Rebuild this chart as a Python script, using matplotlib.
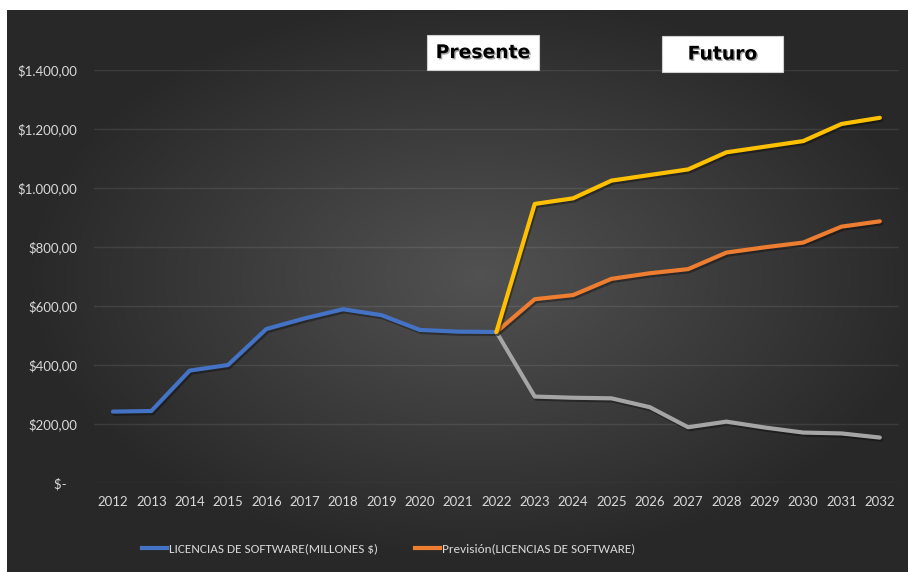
import numpy as np
import matplotlib.pyplot as plt
import matplotlib.patheffects as pe
from matplotlib import font_manager
from matplotlib.patches import Rectangle
from matplotlib.lines import Line2D
from matplotlib.ticker import FuncFormatter

# historic sales (millions $)
years_hist = [2012, 2013, 2014, 2015, 2016, 2017, 2018, 2019, 2020, 2021, 2022]
licencias = [242, 244, 381, 400, 522, 558, 589, 569, 519, 513, 512]

# forecast with upper / lower confidence bound
years_fc = [2022, 2023, 2024, 2025, 2026, 2027, 2028, 2029, 2030, 2031, 2032]
prevision = [512, 623, 637, 692, 711, 725, 781, 799, 815, 869, 887]
limite_sup = [512, 946, 965, 1025, 1044, 1063, 1121, 1140, 1159, 1217, 1238]
limite_inf = [512, 293, 289, 287, 257, 189, 208, 188, 171, 168, 154]

yticks = [0, 200, 400, 600, 800, 1000, 1200, 1400]

# narrow font for the legend if there is one, else a smaller Lato
installed = {f.name for f in font_manager.fontManager.ttflist}
narrow = None
for cand in ['Carlito', 'Liberation Sans Narrow', 'Roboto Condensed', 'Open Sans Condensed', 'Arial Narrow']:
    if cand in installed:
        narrow = cand
        break
leg_prop = {'family': [narrow, 'DejaVu Sans'], 'size': 9.5} if narrow else {'family': ['Lato', 'DejaVu Sans'], 'size': 8}


def money(v, pos):
    if v == 0:
        return '$-   '
    s = f'{v:,.2f}'.replace(',', 'X').replace('.', ',').replace('X', '.')
    return '$' + s


W, H = 908, 572
fig = plt.figure(figsize=(W / 100, H / 100), dpi=100)
fig.patch.set_facecolor('white')
plt.rcParams['font.family'] = ['Lato', 'DejaVu Sans']

# dark radial background
bg = fig.add_axes([7 / W, 0, (W - 7) / W, (H - 10) / H])
bg.set_axis_off()
gx, gy = np.meshgrid(np.linspace(-1, 1, 400), np.linspace(-1, 1, 250))
r = np.sqrt((gx - 0.05) ** 2 + (gy + 0.05) ** 2)
shade = np.clip(0.32 - 0.16 * r, 0.16, 0.32)
bg.imshow(np.dstack([shade] * 3), aspect='auto', extent=[0, 1, 0, 1])
bg.set_xlim(0, 1)
bg.set_ylim(0, 1)

ax = fig.add_axes([93.8 / W, (H - 483) / H, (899 - 93.8) / W, 413 / H])
ax.set_facecolor('none')
ax.set_xlim(2011.5, 2032.5)
ax.set_ylim(0, 1400)

ax.set_yticks(yticks)
ax.yaxis.set_major_formatter(FuncFormatter(money))
ax.set_xticks(list(range(2012, 2033)))
ax.tick_params(axis='y', length=0, pad=12, labelsize=9.5, colors='#d9d9d9')
ax.tick_params(axis='x', length=0, pad=9, labelsize=9.5, colors='#d9d9d9')
ax.grid(axis='y', color='white', alpha=0.09, lw=1)
ax.set_axisbelow(True)
for s in ax.spines.values():
    s.set_visible(False)

shadow = [pe.SimpleLineShadow(offset=(1, -1.5), alpha=0.35, shadow_color='black'), pe.Normal()]
line_kw = dict(lw=3, solid_capstyle='round', solid_joinstyle='round', path_effects=shadow)
ax.plot(years_hist, licencias, color='#4472C4', **line_kw)
ax.plot(years_fc, limite_inf, color='#A5A5A5', **line_kw)
ax.plot(years_fc, prevision, color='#ED7D31', **line_kw)
ax.plot(years_fc, limite_sup, color='#FFC000', **line_kw)

# legend: two entries, each anchored at its own left edge
for color, label, x_left in [('#4472C4', 'LICENCIAS DE SOFTWARE(MILLONES $)', 142),
                             ('#ED7D31', 'Previsión(LICENCIAS DE SOFTWARE)', 415)]:
    leg = fig.legend([Line2D([], [], color=color, lw=3)], [label], loc='center left',
                     bbox_to_anchor=(x_left / W, (H - 549) / H), frameon=False,
                     prop=leg_prop, labelcolor='#d9d9d9', handlelength=1.9,
                     handletextpad=0.15, borderpad=0, borderaxespad=0)

# "Presente" / "Futuro" labels
for label, x0, y0, w, h in [('Presente', 427, 35, 112, 35), ('Futuro', 662, 36, 121, 36)]:
    fig.patches.append(Rectangle((x0 / W, (H - y0 - h) / H), w / W, h / H,
                                 transform=fig.transFigure, facecolor='white',
                                 edgecolor='#d0d0d0', lw=0.8))
    fig.text((x0 + w / 2) / W, (H - y0 - h / 2) / H, label, ha='center', va='center',
             fontsize=13.5, fontweight='bold', color='black', family='DejaVu Sans',
             path_effects=[pe.withSimplePatchShadow(offset=(1, -1), alpha=0.35)])

fig.savefig('out.png', dpi=100, facecolor='white')
